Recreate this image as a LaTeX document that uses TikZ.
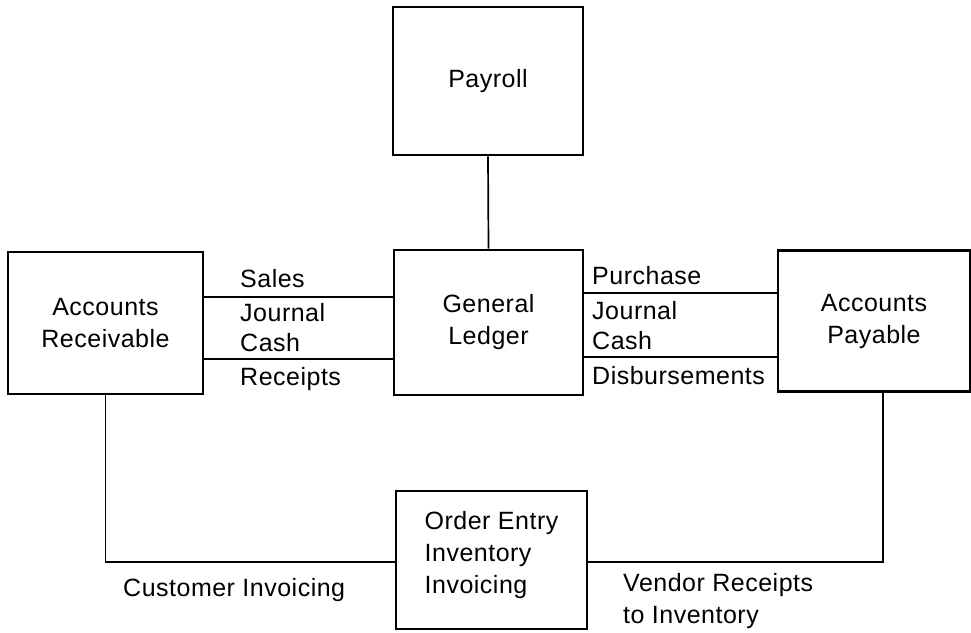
\documentclass[tikz,border=0pt]{standalone}
\usepackage{fontspec}
\setmainfont{Liberation Sans}[LetterSpace=2.0]
\begin{document}
\begin{tikzpicture}[x=1pt,y=-1pt,
  txt/.style={font=\fontsize{25}{32}\selectfont},
  box/.style={draw,line width=2.8pt,inner sep=0pt,align=center,txt},
  lbl/.style={inner sep=0pt,anchor=west,align=left,txt},
  conn/.style={line width=1.7pt}]
\useasboundingbox (0,0) rectangle (971,632);
\node[box,minimum width=190pt,minimum height=148pt] (P) at (488,81) {Payroll};
\node[box,minimum width=189pt,minimum height=145pt] (GL) at (488.5,322.5) {General\\Ledger};
\node[box,minimum width=195pt,minimum height=142pt] (AR) at (105.5,323) {Accounts\\Receivable};
\node[box,minimum width=192pt,minimum height=141pt] (AP) at (874,321) {Accounts\\Payable};
\node[box,minimum width=191pt,minimum height=138pt,
  label={[txt,align=left,inner sep=0pt,yshift=5pt]center:{Order Entry\\Inventory\\Invoicing}}] (OE) at (491.5,560) {};
% level coordinates
\coordinate (ys) at (0,297);
\coordinate (yr) at (0,359);
\coordinate (yp) at (0,293);
\coordinate (yd) at (0,357);
\coordinate (yb) at (0,562);
\coordinate (xa) at (883,0);
% connectors
\draw[conn] (P.south) -- (GL.north);
\draw[conn] (AR.east |- ys) -- (GL.west |- ys);
\draw[conn] (AR.east |- yr) -- (GL.west |- yr);
\draw[conn] (GL.east |- yp) -- (AP.west |- yp);
\draw[conn] (GL.east |- yd) -- (AP.west |- yd);
\draw[conn] (AR.south) -- (AR.south |- yb) -- (OE.west |- yb);
\draw[conn] (AP.south -| xa) -- (xa |- yb) -- (OE.east |- yb);
% labels
\node[lbl] (l1) at (240,279) {Sales};
\node[lbl] (l2) at (240,313) {Journal};
\node[lbl] (l3) at (240,343) {Cash};
\node[lbl] (l4) at (240,379) {Receipts};
\node[lbl] (r1) at (592,276) {Purchase};
\node[lbl] (r2) at (592,311) {Journal};
\node[lbl] (r3) at (592,341) {Cash};
\node[lbl] (r4) at (592,376) {Disbursements};
\node[lbl] (ci) at (123,590) {Customer Invoicing};
\node[lbl] (vr) at (623,601) {Vendor Receipts\\to Inventory};
\end{tikzpicture}
\end{document}
